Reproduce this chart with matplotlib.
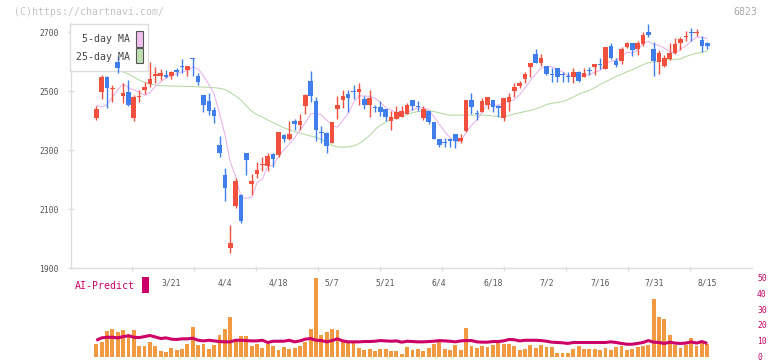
import numpy as np
import matplotlib
matplotlib.use("Agg")
import matplotlib.pyplot as plt
from matplotlib.patches import Rectangle

plt.rcParams['font.family'] = ['DejaVu Sans Mono']

# ---------------- data ----------------
opens = [2410, 2499, 2550, 2508, 2600, 2485, 2499, 2408, 2479, 2504,
         2525, 2552, 2553, 2556, 2552, 2572, 2587, 2572, 2612, 2552,
         2487, 2468, 2436, 2318, 2216, 1969, 2112, 2148, 2289, 2185,
         2219, 2250, 2246, 2287, 2284, 2351, 2338, 2399, 2385, 2451,
         2535, 2467, 2361, 2358, 2325, 2441, 2470, 2491, 2499, 2499,
         2474, 2453, 2445, 2445, 2440, 2400, 2406, 2414, 2423, 2470,
         2448, 2410, 2434, 2397, 2338, 2329, 2338, 2355, 2332, 2366,
         2470, 2425, 2431, 2453, 2470, 2451, 2410, 2465, 2502, 2519,
         2542, 2583, 2626, 2597, 2586, 2557, 2578, 2559, 2550, 2547,
         2564, 2550, 2572, 2581, 2591, 2577, 2654, 2603, 2604, 2651,
         2665, 2642, 2660, 2700, 2643, 2600, 2587, 2608, 2631, 2665,
         2684, 2700, 2698, 2674, 2665]
highs = [2450, 2556, 2552, 2522, 2620, 2529, 2538, 2487, 2504, 2533,
         2598, 2583, 2576, 2572, 2570, 2579, 2609, 2586, 2614, 2562,
         2487, 2493, 2448, 2348, 2241, 2046, 2207, 2150, 2291, 2218,
         2261, 2278, 2289, 2289, 2361, 2355, 2399, 2405, 2423, 2491,
         2569, 2479, 2382, 2360, 2397, 2484, 2504, 2504, 2521, 2529,
         2484, 2504, 2453, 2467, 2440, 2433, 2450, 2450, 2461, 2470,
         2467, 2450, 2434, 2397, 2338, 2340, 2342, 2355, 2355, 2470,
         2495, 2436, 2478, 2479, 2470, 2453, 2476, 2495, 2529, 2536,
         2567, 2597, 2643, 2626, 2586, 2578, 2578, 2567, 2567, 2578,
         2570, 2578, 2583, 2592, 2613, 2649, 2663, 2614, 2651, 2668,
         2665, 2672, 2700, 2728, 2668, 2640, 2623, 2665, 2680, 2685,
         2705, 2714, 2711, 2688, 2668]
lows = [2403, 2474, 2444, 2465, 2561, 2459, 2450, 2400, 2463, 2491,
        2516, 2529, 2538, 2546, 2542, 2553, 2561, 2553, 2553, 2521,
        2431, 2419, 2391, 2278, 2129, 1950, 2105, 2052, 2216, 2148,
        2204, 2230, 2230, 2242, 2276, 2329, 2336, 2368, 2368, 2423,
        2465, 2331, 2323, 2292, 2325, 2406, 2442, 2431, 2474, 2453,
        2440, 2414, 2431, 2416, 2400, 2368, 2406, 2411, 2423, 2436,
        2434, 2402, 2389, 2338, 2312, 2312, 2310, 2308, 2325, 2363,
        2423, 2402, 2431, 2440, 2431, 2414, 2400, 2434, 2479, 2510,
        2529, 2550, 2595, 2587, 2555, 2530, 2533, 2533, 2533, 2529,
        2533, 2550, 2555, 2555, 2576, 2576, 2609, 2583, 2592, 2646,
        2621, 2623, 2655, 2685, 2553, 2559, 2583, 2606, 2625, 2640,
        2672, 2672, 2689, 2632, 2643]
closes = [2439, 2550, 2512, 2512, 2578, 2493, 2453, 2482, 2485, 2516,
          2542, 2557, 2562, 2550, 2565, 2567, 2584, 2586, 2609, 2533,
          2453, 2434, 2417, 2289, 2173, 1986, 2195, 2060, 2267, 2195,
          2233, 2254, 2280, 2271, 2361, 2337, 2354, 2388, 2399, 2487,
          2485, 2368, 2358, 2314, 2397, 2453, 2484, 2478, 2497, 2508,
          2453, 2478, 2443, 2431, 2414, 2414, 2431, 2434, 2453, 2451,
          2446, 2440, 2397, 2338, 2318, 2326, 2330, 2332, 2342, 2470,
          2448, 2423, 2467, 2479, 2448, 2442, 2476, 2479, 2516, 2529,
          2559, 2595, 2597, 2612, 2557, 2555, 2547, 2557, 2548, 2564,
          2536, 2563, 2570, 2592, 2589, 2649, 2612, 2589, 2643, 2665,
          2640, 2665, 2691, 2691, 2604, 2631, 2614, 2631, 2660, 2677,
          2686, 2698, 2700, 2655, 2655]
ma5 = [2452, 2446, 2455, 2480, 2505, 2525, 2512, 2504, 2498, 2486,
       2496, 2516, 2532, 2545, 2555, 2560, 2566, 2570, 2582, 2576,
       2553, 2523, 2489, 2425, 2353, 2260, 2212, 2141, 2136, 2141,
       2190, 2202, 2246, 2247, 2280, 2301, 2321, 2342, 2368, 2393,
       2423, 2425, 2419, 2402, 2384, 2378, 2401, 2425, 2462, 2484,
       2484, 2483, 2476, 2463, 2444, 2436, 2427, 2425, 2429, 2437,
       2443, 2445, 2437, 2414, 2388, 2364, 2342, 2329, 2330, 2360,
       2384, 2403, 2430, 2457, 2453, 2452, 2462, 2465, 2472, 2488,
       2512, 2536, 2559, 2578, 2584, 2583, 2574, 2566, 2553, 2554,
       2550, 2554, 2556, 2565, 2570, 2593, 2602, 2606, 2616, 2632,
       2630, 2640, 2661, 2670, 2658, 2656, 2646, 2634, 2628, 2643,
       2654, 2670, 2684, 2683, 2679]
ma25 = [2590, 2585, 2580, 2575, 2570, 2566, 2558, 2548, 2538, 2530,
        2525, 2521, 2519, 2518, 2518, 2517, 2517, 2516, 2516, 2515,
        2514, 2513, 2512, 2510, 2506, 2496, 2484, 2470, 2450, 2432,
        2420, 2412, 2402, 2394, 2385, 2376, 2370, 2363, 2358, 2353,
        2348, 2344, 2336, 2327, 2316, 2311, 2310, 2311, 2314, 2322,
        2335, 2350, 2370, 2385, 2395, 2404, 2410, 2416, 2421, 2427,
        2431, 2434, 2434, 2431, 2427, 2422, 2419, 2419, 2419, 2419,
        2419, 2419, 2419, 2418, 2416, 2415, 2414, 2418, 2423, 2427,
        2431, 2435, 2440, 2447, 2455, 2459, 2462, 2465, 2472, 2480,
        2490, 2497, 2503, 2512, 2523, 2532, 2541, 2550, 2558, 2566,
        2573, 2582, 2590, 2597, 2600, 2603, 2606, 2607, 2608, 2610,
        2618, 2624, 2629, 2633, 2637]
volume = [7.9, 9.4, 16.3, 17.4, 15.7, 16.7, 14.6, 16.7, 6.9, 6.9,
          9.4, 6.9, 3.8, 3.1, 5.4, 4.4, 5.2, 7.9, 18.8, 7.5,
          7.9, 4.8, 7.3, 13.6, 17.4, 25.1, 11.1, 13.2, 13.2, 6.9,
          7.9, 5.4, 7.9, 6.9, 4.4, 6.3, 5.2, 5.6, 6.9, 9.4,
          17.4, 49.3, 13.6, 15.7, 17.4, 16.7, 9.4, 9.4, 9.0, 5.4,
          4.4, 4.8, 3.8, 4.8, 5.2, 3.6, 3.6, 1.7, 6.3, 4.4,
          4.8, 3.8, 5.4, 7.9, 9.4, 4.8, 4.2, 7.3, 4.4, 18.0,
          6.9, 5.4, 6.5, 5.9, 7.3, 8.6, 7.9, 7.9, 6.5, 4.4,
          4.8, 7.3, 5.4, 7.3, 5.9, 5.9, 2.7, 2.7, 2.7, 5.2,
          6.5, 4.8, 4.8, 4.8, 4.4, 5.4, 4.4, 6.3, 6.9, 4.4,
          4.8, 6.3, 6.5, 7.3, 36.2, 25.1, 23.6, 13.6, 7.3, 5.4,
          7.3, 11.7, 6.9, 8.6, 7.9]
ai_predict = [10.4, 11.9, 12.3, 12.3, 11.9, 12.7, 13.2, 12.3, 12.1, 12.7,
              13.4, 12.5, 11.5, 11.9, 11.1, 10.9, 11.3, 11.3, 11.7, 10.4,
              10.0, 10.4, 10.0, 9.6, 9.4, 9.4, 10.4, 10.4, 10.2, 10.0,
              10.0, 10.4, 9.0, 9.8, 9.8, 9.8, 10.4, 9.4, 10.0, 11.1,
              11.5, 10.4, 10.2, 9.4, 10.2, 11.3, 10.0, 9.4, 9.4, 9.4,
              9.6, 9.6, 9.8, 10.2, 10.0, 9.8, 10.0, 9.2, 9.8, 9.6,
              9.4, 9.4, 9.6, 9.8, 10.2, 10.0, 9.8, 9.4, 10.0, 10.2,
              10.2, 9.4, 9.2, 9.2, 9.6, 9.6, 10.0, 10.9, 10.7, 10.0,
              10.4, 10.4, 10.4, 10.2, 9.8, 9.2, 9.0, 8.8, 8.4, 9.0,
              9.0, 9.0, 9.0, 9.0, 9.0, 9.0, 9.4, 9.0, 8.4, 7.9,
              7.9, 8.4, 9.0, 10.2, 9.2, 9.0, 8.4, 9.2, 8.6, 8.4,
              8.6, 9.4, 8.6, 9.6, 8.4]
date_labels = ["3/21", "4/4", "4/18", "5/7", "5/21", "6/4",
               "6/18", "7/2", "7/16", "7/31", "8/15"]
date_label_pos = [14, 24, 34, 44, 54, 64, 74, 84, 94, 104, 114]
price_ticks = [1900, 2100, 2300, 2500, 2700]
vol_ticks = [0, 10, 20, 30, 40, 50]

# ---------------- styling ----------------
RED = '#f2503f'
BLUE = '#3f7eec'
AXC = '#dddddd'
MAG = '#cc0066'
W, H = 772, 361


def fx(px):
    return px / W


def fy(py):
    return 1 - py / H


fig = plt.figure(figsize=(W / 100, H / 100), dpi=100)

XMIN, XMAX = -4.81, 122.4

# ---------------- price panel ----------------
ax = fig.add_axes([fx(70.5), fy(268), fx(752.3) - fx(70.5), fy(22.9) - fy(268)])
idx = np.arange(len(closes))
o = np.array(opens, float)
c = np.array(closes, float)
h = np.array(highs, float)
l = np.array(lows, float)
up = c >= o
cols = np.where(up, RED, BLUE)

ax.plot(idx, ma25, color='#b3d9a3', lw=0.75, zorder=2)
ax.plot(idx, ma5, color='#e8b2ea', lw=0.75, zorder=2)
ax.vlines(idx, l, h, colors=cols, linewidth=1.0, zorder=4)
bh = np.maximum(np.abs(c - o), 3.4)
bb = (o + c) / 2 - bh / 2
ax.bar(idx, bh, bottom=bb, width=0.86, color=cols, linewidth=0, zorder=5)

ax.set_xlim(XMIN, XMAX)
ax.set_ylim(1900, 2732)
for s in ['top', 'right']:
    ax.spines[s].set_visible(False)
for s in ['left', 'bottom']:
    ax.spines[s].set_color(AXC)
    ax.spines[s].set_linewidth(1.0)
ax.set_yticks(price_ticks)
ax.set_yticklabels([str(t) for t in price_ticks])
ax.tick_params(axis='y', direction='inout', length=4.75, width=1, color=AXC,
               labelsize=5.8, labelcolor='#555555', pad=5.9)
major = np.linspace(XMIN, XMAX, 12)[1:-1]
ax.set_xticks(major)
ax.set_xticklabels([])
ax.set_xticks(date_label_pos, minor=True)
ax.set_xticklabels(date_labels, minor=True)
ax.tick_params(axis='x', which='major', direction='inout', length=3.6, width=1,
               color=AXC)
ax.tick_params(axis='x', which='minor', length=0, labelsize=5.8,
               labelcolor='#555555', pad=7.9)
ax.patch.set_alpha(0)

# legend box: above the MA lines, below the candles
ax.add_patch(Rectangle((fx(70.3), fy(71.3)), fx(148.3) - fx(70.3), fy(24.3) - fy(71.3),
                       transform=fig.transFigure, facecolor='white',
                       edgecolor='#dddddd', lw=1.0, zorder=3, clip_on=False))
ax.text(fx(129.5), fy(39.5), "5-day MA", color='#444444', fontsize=7.1,
        ha='right', va='center', zorder=6, transform=fig.transFigure)
ax.text(fx(129.5), fy(57), "25-day MA", color='#444444', fontsize=7.1,
        ha='right', va='center', zorder=6, transform=fig.transFigure)
ax.add_patch(Rectangle((fx(136.3), fy(46.7)), fx(6.4), fy(31) - fy(46.7),
                       transform=fig.transFigure, facecolor='#f0c0f0',
                       edgecolor='#555555', lw=0.8, zorder=6, clip_on=False))
ax.add_patch(Rectangle((fx(136.3), fy(63.3)), fx(6.4), fy(48.3) - fy(63.3),
                       transform=fig.transFigure, facecolor='#c0e0b0',
                       edgecolor='#555555', lw=0.8, zorder=6, clip_on=False))

# ---------------- volume / AI panel ----------------
axv = fig.add_axes([fx(70.5), fy(356.8), fx(752.3) - fx(70.5), fy(277.3) - fy(356.8)])
axv.bar(idx, volume, width=0.72, color='#f29a42', linewidth=0, zorder=2)
axv.plot(idx, ai_predict, color=MAG, lw=2.2, zorder=3, solid_capstyle='butt')
axv.set_xlim(XMIN, XMAX)
axv.set_ylim(0, 50)
for s in axv.spines.values():
    s.set_visible(False)
axv.set_xticks([])
axv.yaxis.tick_right()
axv.set_yticks(vol_ticks)
axv.set_yticklabels([str(t) for t in vol_ticks])
axv.tick_params(axis='y', length=0, labelsize=5.8, labelcolor=MAG, pad=3.4)
axv.patch.set_alpha(0)

# ---------------- annotations ----------------
fig.text(fx(14), fy(12), "(C)https://chartnavi.com/", color='#c4c4c4',
         fontsize=7.1, ha='left', va='center')
fig.text(fx(757), fy(12), "6823", color='#aaaaaa', fontsize=7.1,
         ha='right', va='center')

# AI-Predict label
fig.text(fx(75), fy(286), "AI-Predict", color=MAG, fontsize=7.1,
         ha='left', va='center')
fig.add_artist(Rectangle((fx(142.3), fy(292.7)), fx(6.4), fy(276.7) - fy(292.7),
                         transform=fig.transFigure, facecolor=MAG,
                         edgecolor='none', zorder=5))

fig.savefig('out.png', dpi=100)
